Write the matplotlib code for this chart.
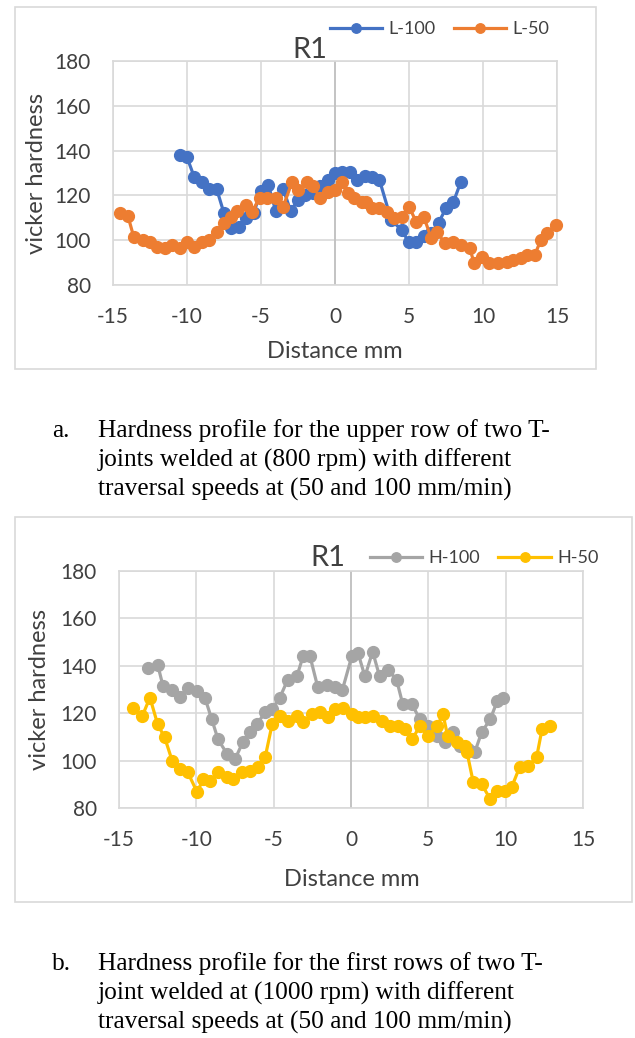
import matplotlib
matplotlib.use("Agg")
import matplotlib.pyplot as plt
from matplotlib.patches import Rectangle

W, H = 635, 1038
plt.rcParams["axes.unicode_minus"] = False

# --- data ---
l100_x = [-10.5, -10.0, -9.5, -9.0, -8.5, -8.0, -7.5, -7.0, -6.5, -6.0, -5.5, -5.0, -4.5, -4.0,
          -3.5, -3.0, -2.5, -2.0, -1.5, -1.0, -0.5, 0.0, 0.5, 1.0, 1.5, 2.0, 2.5, 3.0, 3.8, 4.5,
          5.0, 5.5, 6.0, 6.5, 7.0, 7.5, 8.0, 8.5]
l100_y = [138, 137, 128, 126, 123, 123, 112, 105.5, 106, 110, 112, 122, 124.5, 113,
          123, 113, 118, 120, 121, 124, 127, 130, 130.5, 130.5, 127, 128.5, 128, 127, 109, 104.6,
          99, 99, 102, 103, 107.7, 114.4, 117, 126]

l50_x = [-14.5, -14.0, -13.6, -13.0, -12.5, -12.0, -11.5, -11.0, -10.5, -10.0, -9.5, -9.0, -8.5,
         -8.0, -7.5, -7.0, -6.6, -6.0, -5.6, -5.1, -4.6, -4.0, -3.5, -2.9, -2.5, -1.9, -1.5, -1.0,
         -0.5, 0.0, 0.5, 0.9, 1.3, 1.8, 2.1, 2.5, 3.0, 3.5, 4.0, 4.5, 5.0, 5.5, 6.0, 6.5, 6.9,
         7.4, 8.0, 8.5, 9.1, 9.4, 9.9, 10.4, 11.0, 11.6, 12.0, 12.6, 13.0, 13.5, 13.9, 14.3, 14.9]
l50_y = [112, 111, 101.5, 100, 99, 97, 96.5, 98, 96.5, 99, 97, 99, 100,
         103.6, 107.6, 110.4, 113, 115.7, 112.6, 119, 119, 119, 115, 126, 122.4, 126, 124, 119,
         121.5, 122.4, 126, 121, 119, 117, 117, 114.4, 114.4, 112.6, 110, 110.4, 115, 108, 110.4, 101, 103.6,
         98.8, 99, 98, 96.5, 89.8, 92.5, 89.8, 89.8, 90.3, 91, 92, 93.4, 93.4, 100, 103, 107]

h100_x = [-13.1, -12.5, -12.15, -11.6, -11.05, -10.55, -9.95, -9.45, -9.0, -8.6, -8.0, -7.5, -7.0,
          -6.5, -6.1, -5.55, -5.1, -4.6, -4.1, -3.5, -3.1, -2.65, -2.15, -1.55, -1.05, -0.55, 0.05,
          0.45, 0.9, 1.4, 1.85, 2.4, 2.95, 3.35, 3.95, 4.45, 4.95, 5.55, 6.05, 6.6, 7.05, 7.55, 8.0,
          8.45, 9.0, 9.45, 9.8]
h100_y = [139.2, 140.5, 131.3, 130, 127, 130.8, 129.2, 126.6, 117.4, 109, 102.7, 100.6, 107.7,
          112, 115.3, 120.3, 121.6, 126.6, 134, 135.5, 144, 144, 131, 132, 131, 130, 144,
          145.5, 135.5, 146, 135.5, 138.4, 134, 123.7, 123.7, 117.4, 114.5, 110.3, 107.7, 112, 106, 104.8, 103.5,
          112, 117.4, 125, 126.6]

h50_x = [-14.1, -13.5, -13.0, -12.5, -12.05, -11.55, -11.05, -10.55, -9.95, -9.55, -9.1, -8.6, -8.0,
         -7.6, -7.05, -6.55, -6.0, -5.55, -5.1, -4.6, -4.1, -3.5, -3.1, -2.5, -2.0, -1.5, -1.05, -0.5,
         0.05, 0.45, 0.9, 1.4, 2.0, 2.5, 3.05, 3.5, 3.95, 4.45, 4.95, 5.55, 5.95, 6.25, 6.85, 7.35,
         7.5, 7.9, 8.45, 9.0, 9.45, 9.95, 10.4, 10.9, 11.45, 12.0, 12.35, 12.85]
h50_y = [122.4, 118.7, 126.6, 115.3, 109.8, 99.7, 96.4, 95, 86.7, 92.2, 91.3, 95, 93,
         92.2, 95, 95.5, 97.2, 101.4, 115.3, 118.7, 116.6, 118.7, 116.1, 119.5, 120.3, 118.2, 121.6, 122.4,
         119.5, 118.2, 118.2, 118.7, 116.6, 114.5, 114.5, 113.2, 109, 114.5, 110.3, 114.5, 119.5, 110.3, 108, 106,
         103.5, 91, 90, 83.8, 87, 87, 89, 97.2, 97.6, 101.4, 113.2, 114.5]

x_ticks = [-15, -10, -5, 0, 5, 10, 15]
y_ticks = [80, 100, 120, 140, 160, 180]

caption_a = ["Hardness profile for the upper row of two T-",
             "joints welded at (800 rpm) with different",
             "traversal speeds at (50 and 100 mm/min)"]
caption_b = ["Hardness profile for the first rows of two T-",
             "joint welded at (1000 rpm) with different",
             "traversal speeds at (50 and 100 mm/min)"]

SANS = "Lato"
SERIF = "Liberation Serif"
TXT = "#404040"
GRID = "#D9D9D9"

fig = plt.figure(figsize=(W / 100, H / 100), dpi=100)


def fx(px):
    return px / W


def fy(py):
    return 1 - py / H


def box(x0, y0, x1, y1):
    fig.patches.append(Rectangle((fx(x0), fy(y1)), fx(x1) - fx(x0), fy(y0) - fy(y1),
                                 transform=fig.transFigure, fill=False,
                                 edgecolor=GRID, linewidth=1.2))


def panel(rect, series, title_xy, leg_xy, xlab_xy, ylab_xy):
    left, top, right, bottom = rect
    ax = fig.add_axes([fx(left), fy(bottom), fx(right) - fx(left), fy(top) - fy(bottom)])
    ax.set_xlim(-15, 15)
    ax.set_ylim(80, 180)
    ax.set_xticks(x_ticks)
    ax.set_yticks(y_ticks)
    ax.grid(True, color=GRID, linewidth=1.2)
    ax.set_axisbelow(True)
    for s in ax.spines.values():
        s.set_color(GRID)
        s.set_linewidth(1.2)
    ax.axvline(0, color="#BFBFBF", linewidth=1.2, zorder=1)
    ax.tick_params(length=0, labelsize=15, labelcolor=TXT, pad=16)
    for lab in ax.get_xticklabels() + ax.get_yticklabels():
        lab.set_fontfamily(SANS)
    handles = []
    for xs, ys, c, name in series:
        h, = ax.plot(xs, ys, "-o", color=c, markersize=8.5, linewidth=2.3, label=name,
                     clip_on=False, zorder=3)
        handles.append(h)
    fig.text(fx(title_xy[0]), fy(title_xy[1]), "R1", fontsize=21, family=SANS, color=TXT,
             ha="center", va="center")
    fig.legend(handles=handles, loc="center left", bbox_to_anchor=(fx(leg_xy[0]), fy(leg_xy[1])),
               ncol=2, frameon=False, prop={"family": SANS, "size": 13}, labelcolor=TXT,
               handlelength=2.9, handletextpad=0.35, columnspacing=1.0, borderpad=0,
               borderaxespad=0, markerscale=0.8)
    fig.text(fx(xlab_xy[0]), fy(xlab_xy[1]), "Distance mm", fontsize=17, family=SANS, color=TXT,
             ha="center", va="center")
    fig.text(fx(ylab_xy[0]), fy(ylab_xy[1]), "vicker hardness", fontsize=17, family=SANS,
             color=TXT, ha="center", va="center", rotation=90)
    return ax


# top chart
box(15, 7, 596, 369)
panel((113, 61, 557, 285),
      [(l100_x, l100_y, "#4472C4", "L-100"), (l50_x, l50_y, "#ED7D31", "L-50")],
      (310, 50), (330, 29), (335, 352), (37, 173))

# bottom chart
box(15, 517, 632, 902)
panel((119, 571, 583, 808),
      [(h100_x, h100_y, "#A5A5A5", "H-100"), (h50_x, h50_y, "#FFC000", "H-50")],
      (328, 558), (370, 558), (352, 880), (40, 690))

# captions
for label, lines, y0 in (("a.", caption_a, 437), ("b.", caption_b, 970)):
    fig.text(fx(52), fy(y0), label, fontsize=18.3, family=SERIF, color="black", va="baseline")
    for i, line in enumerate(lines):
        fig.text(fx(98), fy(y0 + i * 29.5), line, fontsize=18.3, family=SERIF, color="black",
                 va="baseline")

fig.savefig("out.png", dpi=100)
